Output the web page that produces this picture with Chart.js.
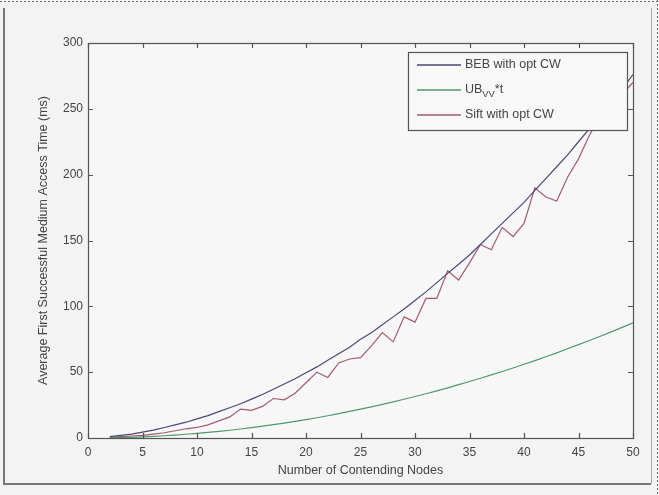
<!DOCTYPE html>
<html><head><meta charset="utf-8">
<script src="https://cdn.jsdelivr.net/npm/chart.js@4"></script>
<style>html,body{margin:0;padding:0;background:#f3f3f3;}#c{display:block;}</style>
</head><body>
<canvas id="c" width="659" height="495"></canvas>
<script>
const nodes = [2,3,4,5,6,7,8,9,10,11,12,13,14,15,16,17,18,19,20,21,22,23,24,25,26,27,28,29,30,31,32,33,34,35,36,37,38,39,40,41,42,43,44,45,46,47,48,49,50];
const bebValues = [1,2,3,4.5,6,8,10,12,14.5,17,20,23,26,29.5,33,37,41,45,49.5,54,59,64,69,75,80,86,92,98,104.5,111,118,125,132,139,147,155,163,171,179,188,197,206,215,225,235,245,255,265,276];
const ubValues = [0.15,0.3,0.55,0.9,1.25,1.7,2.25,2.85,3.5,4.25,5.05,5.9,6.85,7.9,8.95,10.1,11.35,12.6,14,15.4,16.9,18.5,20.2,21.9,23.7,25.5,27.4,29.4,31.5,33.6,35.8,38.1,40.5,42.9,45.4,47.9,50.5,53.2,56,58.8,61.7,64.7,67.8,70.9,74.1,77.3,80.6,84,87.5];
const siftValues = [0.5,1,1.5,2,3,4,5.5,7,8,10,13,16,22,21,24,30,29,34,42,50,46,57,60,61,70,80,73,92,88,106,106,127,120,133,147,143,160,153,163,190,183,180,198,212,230,244,252,261,270];
const xTicks = [0,5,10,15,20,25,30,35,40,45,50];
const yTicks = [0,50,100,150,200,250,300];
const seriesLabels = ['BEB with opt CW','UB_{VV}*t','Sift with opt CW'];
const seriesColors = ['#4d4878','#4f9a6c','#a65a70'];

const toXY = v => v.map((y,i)=>({x:nodes[i], y}));
const FONT = '"Liberation Sans", Arial, sans-serif';

function drawRich(ctx, text, x, y, size){
  const m = text.match(/^(.*?)_\{(.*?)\}(.*)$/);
  ctx.font = size+'px '+FONT;
  ctx.textBaseline = 'middle';
  ctx.textAlign = 'left';
  if(!m){ ctx.fillText(text,x,y); return; }
  ctx.fillText(m[1],x,y); let w = ctx.measureText(m[1]).width;
  ctx.font = (size*0.75)+'px '+FONT;
  ctx.fillText(m[2],x+w,y+4); w += ctx.measureText(m[2]).width;
  ctx.font = size+'px '+FONT;
  ctx.fillText(m[3],x+w,y);
}

const framePlugin = {
  id:'frame',
  beforeDraw(chart){
    const ctx = chart.ctx;
    ctx.save();
    ctx.fillStyle = '#f3f3f3';
    ctx.fillRect(0,0,chart.width,chart.height);
    ctx.strokeStyle = '#777'; ctx.lineWidth = 2;
    ctx.beginPath(); ctx.moveTo(4,8); ctx.lineTo(4,484); ctx.lineTo(651,484); ctx.stroke();
    ctx.strokeStyle = '#aaa'; ctx.lineWidth = 1;
    ctx.beginPath(); ctx.moveTo(651.5,8); ctx.lineTo(651.5,484); ctx.stroke();
    ctx.setLineDash([2,2]); ctx.strokeStyle='#666';
    ctx.beginPath(); ctx.moveTo(0,1.5); ctx.lineTo(659,1.5); ctx.stroke();
    ctx.beginPath(); ctx.moveTo(657.5,0); ctx.lineTo(657.5,495); ctx.stroke();
    ctx.setLineDash([]);
    const a = chart.chartArea;
    ctx.fillStyle = '#f7f7f7';
    ctx.fillRect(a.left,a.top,a.right-a.left,a.bottom-a.top);
    ctx.restore();
  },
  afterDraw(chart){
    const ctx = chart.ctx, a = chart.chartArea;
    const xs = chart.scales.x, ys = chart.scales.y;
    ctx.save();
    ctx.strokeStyle = '#555'; ctx.lineWidth = 1.2;
    ctx.strokeRect(a.left+0.5,a.top+0.5,a.right-a.left,a.bottom-a.top);
    ctx.beginPath();
    xTicks.forEach(t=>{const px=Math.round(xs.getPixelForValue(t))+0.5;
      ctx.moveTo(px,a.bottom); ctx.lineTo(px,a.bottom-5);
      ctx.moveTo(px,a.top); ctx.lineTo(px,a.top+5);});
    yTicks.forEach(t=>{const py=Math.round(ys.getPixelForValue(t))+0.5;
      ctx.moveTo(a.left,py); ctx.lineTo(a.left+5,py);
      ctx.moveTo(a.right,py); ctx.lineTo(a.right-5,py);});
    ctx.stroke();
    const lx = 408, ly = 52, lw = 219, lh = 78;
    ctx.fillStyle = '#f8f8f8';
    ctx.fillRect(lx,ly,lw,lh);
    ctx.strokeStyle = '#555'; ctx.lineWidth = 1.2;
    ctx.strokeRect(lx+0.5,ly+0.5,lw,lh);
    seriesLabels.forEach((lab,i)=>{
      const y = ly + 13 + i*25;
      ctx.strokeStyle = seriesColors[i]; ctx.lineWidth = 1.5;
      ctx.beginPath(); ctx.moveTo(lx+9,y); ctx.lineTo(lx+53,y); ctx.stroke();
      ctx.fillStyle = '#444';
      drawRich(ctx, lab, lx+57, y, 12.5);
    });
    ctx.restore();
  }
};

new Chart(document.getElementById('c'), {
  type:'line',
  data:{datasets:[
    {label:seriesLabels[0], data:toXY(bebValues), borderColor:seriesColors[0], borderWidth:1.2, pointRadius:0, tension:0},
    {label:seriesLabels[1], data:toXY(ubValues), borderColor:seriesColors[1], borderWidth:1.2, pointRadius:0, tension:0},
    {label:seriesLabels[2], data:toXY(siftValues), borderColor:seriesColors[2], borderWidth:1.2, pointRadius:0, tension:0}
  ]},
  options:{
    responsive:false, animation:false,
    layout:{padding:{left:36, top:43, right:26, bottom:17}},
    plugins:{legend:{display:false}, tooltip:{enabled:false}},
    scales:{
      x:{type:'linear', min:0, max:50,
        afterBuildTicks: s => { s.ticks = xTicks.map(v=>({value:v})); },
        afterFit: s => { s.height = 40; },
        grid:{display:false, drawTicks:false}, border:{display:false},
        ticks:{color:'#444', padding:7, font:{family:FONT, size:12}},
        title:{display:true, text:'Number of Contending Nodes', color:'#444', padding:{top:2,bottom:0}, font:{family:FONT, size:12.5}}
      },
      y:{type:'linear', min:0, max:300,
        afterBuildTicks: s => { s.ticks = yTicks.map(v=>({value:v})); },
        afterFit: s => { s.width = 52; },
        grid:{display:false, drawTicks:false}, border:{display:false},
        ticks:{color:'#444', padding:5, font:{family:FONT, size:12}},
        title:{display:true, text:'Average First Successful Medium Access Time (ms)', color:'#444', padding:0, font:{family:FONT, size:12.5}}
      }
    }
  },
  plugins:[framePlugin]
});
</script>
</body></html>
